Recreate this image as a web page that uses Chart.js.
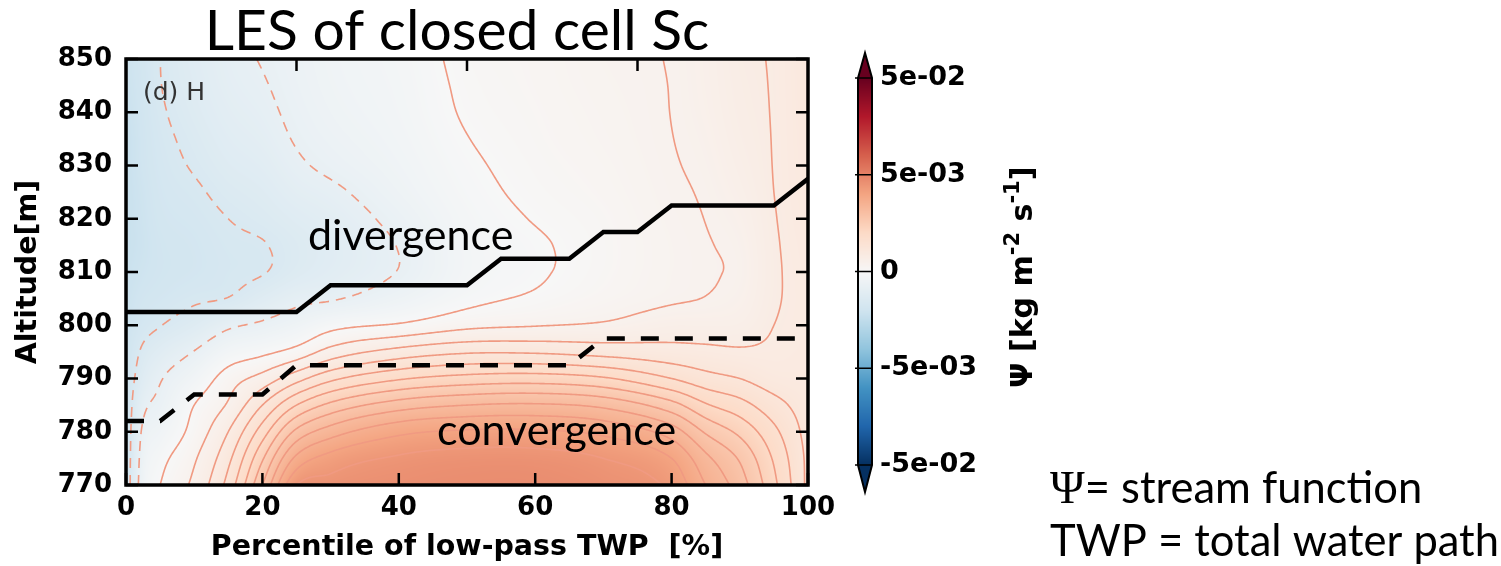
<!DOCTYPE html>
<html>
<head>
<meta charset="utf-8">
<script src="https://cdn.jsdelivr.net/npm/chart.js@4.4.1/dist/chart.umd.min.js"></script>
<style>
  html, body { margin: 0; padding: 0; background: #fff; }
  #wrap { width: 1501px; height: 566px; }
</style>
</head>
<body>
<div id="wrap"><canvas id="psiChart" width="1501" height="566"></canvas></div>
<script>
// grid columns: percentile of low-pass TWP [%]
const twpPct = [0, 2.5, 5, 10, 15, 20, 25, 30, 40, 50, 60, 70, 80, 85, 90, 95, 100];
// grid rows: altitude [m]
const altitudes = [770, 775, 780, 785, 790, 795, 800, 805, 810, 815, 820, 825, 830, 835, 840, 845, 850];

// stream function, units of 1e-3 kg m-2 s-1, one row per altitude
const psi770 = [-2.0, -0.45, 0.0, 0.5, 1.35, 2.8, 4.4, 4.55, 4.65, 4.7, 4.7, 4.6, 4.3, 3.6, 3.0, 2.1, 1.1];
const psi775 = [-2.0, -0.55, -0.15, 0.35, 1.1, 2.35, 3.7, 4.15, 4.45, 4.55, 4.55, 4.4, 4.0, 3.3, 2.75, 1.95, 1.1];
const psi780 = [-2.0, -0.7, -0.4, 0.15, 0.8, 1.8, 2.9, 3.4, 3.9, 4.05, 4.05, 3.9, 3.4, 2.75, 2.3, 1.7, 1.05];
const psi785 = [-2.0, -0.95, -0.65, 0.0, 0.45, 1.2, 2.0, 2.5, 3.0, 3.2, 3.25, 3.1, 2.55, 2.05, 1.75, 1.35, 1.0];
const psi790 = [-2.0, -1.25, -0.85, -0.35, 0.2, 0.55, 1.05, 1.5, 1.95, 2.15, 2.2, 2.05, 1.6, 1.35, 1.2, 1.0, 0.95];
const psi795 = [-2.05, -1.5, -1.2, -0.78, -0.3, -0.1, 0.15, 0.55, 0.95, 1.15, 1.15, 1.05, 0.95, 0.9, 0.85, 0.86, 0.92];
const psi800 = [-2.1, -1.8, -1.62, -1.3, -0.9, -0.7, -0.45, -0.15, 0.05, 0.3, 0.38, 0.45, 0.6, 0.6, 0.62, 0.8, 0.9];
const psi805 = [-2.15, -1.95, -1.85, -1.68, -1.58, -1.25, -0.95, -0.85, -0.5, -0.12, 0.06, 0.22, 0.36, 0.41, 0.5, 0.76, 0.9];
const psi810 = [-2.2, -2.05, -1.95, -1.85, -1.72, -1.63, -1.35, -1.15, -0.78, -0.25, -0.05, 0.15, 0.32, 0.38, 0.45, 0.75, 0.92];
const psi815 = [-2.25, -2.1, -1.95, -1.85, -1.7, -1.63, -1.4, -1.2, -0.78, -0.25, -0.05, 0.14, 0.32, 0.385, 0.47, 0.76, 0.95];
const psi820 = [-2.25, -2.08, -1.9, -1.78, -1.6, -1.45, -1.25, -1.08, -0.65, -0.2, 0.02, 0.16, 0.34, 0.405, 0.52, 0.78, 0.98];
const psi825 = [-2.25, -2.05, -1.85, -1.68, -1.45, -1.3, -1.05, -0.9, -0.5, -0.13, 0.08, 0.2, 0.36, 0.43, 0.58, 0.8, 1.0];
const psi830 = [-2.25, -2.0, -1.8, -1.55, -1.3, -1.15, -0.88, -0.7, -0.4, -0.07, 0.12, 0.23, 0.38, 0.46, 0.63, 0.81, 1.02];
const psi835 = [-2.25, -1.98, -1.75, -1.45, -1.18, -1.02, -0.76, -0.58, -0.33, -0.01, 0.15, 0.26, 0.395, 0.49, 0.67, 0.815, 1.04];
const psi840 = [-2.2, -1.95, -1.68, -1.35, -1.08, -0.92, -0.68, -0.5, -0.28, 0.04, 0.17, 0.28, 0.405, 0.52, 0.7, 0.82, 1.05];
const psi845 = [-2.15, -1.92, -1.62, -1.28, -1.0, -0.84, -0.62, -0.45, -0.25, 0.07, 0.19, 0.3, 0.41, 0.54, 0.72, 0.825, 1.06];
const psi850 = [-2.1, -1.9, -1.6, -1.22, -0.95, -0.77, -0.58, -0.42, -0.22, 0.1, 0.2, 0.32, 0.42, 0.55, 0.74, 0.83, 1.07];
const psiGrid = [psi770, psi775, psi780, psi785, psi790, psi795, psi800, psi805, psi810,
                 psi815, psi820, psi825, psi830, psi835, psi840, psi845, psi850];

// contour levels (1e-3 kg m-2 s-1); negative ones are dashed
const lineLevels = [-1.6, -0.8, 0, 0.4, 0.8, 1.2, 1.6, 2.0, 2.4, 2.8, 3.2, 3.6, 4.0, 4.4];

// upper boundary (solid) and lower boundary (dashed)
const upperPct = [0, 25, 30, 50, 55, 65, 70, 75, 80, 95, 100];
const upperAlt = [802.5, 802.5, 807.5, 807.5, 812.5, 812.5, 817.5, 817.5, 822.5, 822.5, 827.5];
const lowerPct = [0, 5, 10, 20, 25, 65, 70, 100];
const lowerAlt = [782, 782, 787, 787, 792.5, 792.5, 797.5, 797.5];

// colour bar ticks
const cbValues = [0.05, 0.005, 0, -0.005, -0.05];
const cbLabels = ['5e-02', '5e-03', '0', '-5e-03', '-5e-02'];
const topTickPct = [25, 50, 75];

// RdBu reversed
const rdbuR = [[5,48,97],[33,102,172],[67,147,195],[146,197,222],[209,229,240],[247,247,247],
               [253,219,199],[244,165,130],[214,96,77],[178,24,43],[103,0,31]];
const LIN = 5e-3;

function unitFor(v) {
  const a = Math.abs(v);
  let t = a <= LIN ? 0.25 * a / LIN : 0.25 + 0.25 * Math.log10(a / LIN);
  t = Math.min(t, 0.5);
  return 0.5 + Math.sign(v) * t;
}
function rgbAt(t) {
  const s = Math.max(0, Math.min(1, t)) * 10;
  const k = Math.min(9, Math.floor(s));
  const f = s - k;
  const a = rdbuR[k], b = rdbuR[k + 1];
  return [a[0] + (b[0] - a[0]) * f, a[1] + (b[1] - a[1]) * f, a[2] + (b[2] - a[2]) * f];
}

// cubic Hermite through the grid nodes
function hermite(xs, vs, v) {
  const n = xs.length;
  let k = 0;
  while (k < n - 2 && v > xs[k + 1]) k++;
  const h = xs[k + 1] - xs[k];
  const t = Math.max(0, Math.min(1, (v - xs[k]) / h));
  const slope = i => (vs[i + 1] - vs[i]) / (xs[i + 1] - xs[i]);
  const tan = i => i === 0 ? slope(0) : (i === n - 1 ? slope(n - 2) : (slope(i - 1) + slope(i)) / 2);
  const m0 = tan(k) * h, m1 = tan(k + 1) * h;
  const t2 = t * t, t3 = t2 * t;
  return (2 * t3 - 3 * t2 + 1) * vs[k] + (t3 - 2 * t2 + t) * m0 + (-2 * t3 + 3 * t2) * vs[k + 1] + (t3 - t2) * m1;
}

// marching squares on a fine data-space grid, joined into polylines
function traceLevel(vals, gx, gy, level) {
  const nx = gx.length, ny = gy.length;
  const pts = new Map();
  const segs = [];
  const edge = (kind, i, j) => {
    const key = kind + i + '_' + j;
    if (!pts.has(key)) {
      if (kind === 'h') {
        const a = vals[j * nx + i], b = vals[j * nx + i + 1];
        const f = (level - a) / (b - a);
        pts.set(key, [gx[i] + f * (gx[i + 1] - gx[i]), gy[j]]);
      } else {
        const a = vals[j * nx + i], b = vals[(j + 1) * nx + i];
        const f = (level - a) / (b - a);
        pts.set(key, [gx[i], gy[j] + f * (gy[j + 1] - gy[j])]);
      }
    }
    return key;
  };
  for (let j = 0; j < ny - 1; j++) {
    for (let i = 0; i < nx - 1; i++) {
      const v0 = vals[j * nx + i], v1 = vals[j * nx + i + 1];
      const v2 = vals[(j + 1) * nx + i + 1], v3 = vals[(j + 1) * nx + i];
      const c = (v0 > level ? 1 : 0) | (v1 > level ? 2 : 0) | (v2 > level ? 4 : 0) | (v3 > level ? 8 : 0);
      if (c === 0 || c === 15) continue;
      const e0 = () => edge('h', i, j), e1 = () => edge('v', i + 1, j);
      const e2 = () => edge('h', i, j + 1), e3 = () => edge('v', i, j);
      const mid = (v0 + v1 + v2 + v3) / 4 > level;
      switch (c) {
        case 1: case 14: segs.push([e3(), e0()]); break;
        case 2: case 13: segs.push([e0(), e1()]); break;
        case 3: case 12: segs.push([e3(), e1()]); break;
        case 4: case 11: segs.push([e1(), e2()]); break;
        case 6: case 9: segs.push([e0(), e2()]); break;
        case 7: case 8: segs.push([e3(), e2()]); break;
        case 5:
          if (mid) { segs.push([e0(), e1()]); segs.push([e2(), e3()]); }
          else { segs.push([e3(), e0()]); segs.push([e1(), e2()]); }
          break;
        case 10:
          if (mid) { segs.push([e3(), e0()]); segs.push([e1(), e2()]); }
          else { segs.push([e0(), e1()]); segs.push([e2(), e3()]); }
          break;
      }
    }
  }
  const adj = new Map();
  segs.forEach((s, k) => {
    for (const key of s) {
      if (!adj.has(key)) adj.set(key, []);
      adj.get(key).push(k);
    }
  });
  const used = new Uint8Array(segs.length);
  const lines = [];
  const walk = (start) => {
    const out = [];
    let end = start;
    for (;;) {
      const nxt = (adj.get(end) || []).find(k => !used[k]);
      if (nxt === undefined) break;
      used[nxt] = 1;
      const [a, b] = segs[nxt];
      end = a === end ? b : a;
      out.push(end);
    }
    return out;
  };
  for (let s = 0; s < segs.length; s++) {
    if (used[s]) continue;
    used[s] = 1;
    const fwd = walk(segs[s][1]);
    const back = walk(segs[s][0]);
    const chain = back.reverse().concat([segs[s][0], segs[s][1]], fwd);
    lines.push(chain.map(k => pts.get(k)));
  }
  return lines;
}

const streamPlugin = {
  id: 'streamField',
  beforeDatasetsDraw(chart) {
    const { ctx, chartArea } = chart;
    const xs = chart.scales.x, ys = chart.scales.y;
    const left = Math.round(chartArea.left), top = Math.round(chartArea.top);
    const w = Math.round(chartArea.right) - left, h = Math.round(chartArea.bottom) - top;

    // filled field
    const off = document.createElement('canvas');
    off.width = w; off.height = h;
    const octx = off.getContext('2d');
    const img = octx.createImageData(w, h);
    for (let px = 0; px < w; px++) {
      const pct = xs.getValueForPixel(left + px + 0.5);
      const col = psiGrid.map(row => hermite(twpPct, row, pct));
      for (let py = 0; py < h; py++) {
        const alt = ys.getValueForPixel(top + py + 0.5);
        const v = hermite(altitudes, col, alt);
        const c = rgbAt(unitFor(v * 1e-3));
        const o = (py * w + px) * 4;
        img.data[o] = c[0]; img.data[o + 1] = c[1]; img.data[o + 2] = c[2]; img.data[o + 3] = 255;
      }
    }
    octx.putImageData(img, 0, 0);
    ctx.drawImage(off, left, top);

    // contour lines
    const gx = [], gy = [];
    for (let p = 0; p <= 100.0001; p += 0.25) gx.push(p);
    for (let a = 770; a <= 850.0001; a += 0.2) gy.push(a);
    const rowsFine = psiGrid.map(row => gx.map(p => hermite(twpPct, row, p)));
    const vals = new Float64Array(gx.length * gy.length);
    for (let i = 0; i < gx.length; i++) {
      const col = rowsFine.map(r => r[i]);
      for (let j = 0; j < gy.length; j++) vals[j * gx.length + i] = hermite(altitudes, col, gy[j]);
    }
    ctx.save();
    ctx.beginPath();
    ctx.rect(chartArea.left, chartArea.top, chartArea.right - chartArea.left, chartArea.bottom - chartArea.top);
    ctx.clip();
    ctx.strokeStyle = '#f09a82';
    ctx.lineWidth = 1.6;
    for (const level of lineLevels) {
      ctx.setLineDash(level < 0 ? [10, 7] : []);
      for (const line of traceLevel(vals, gx, gy, level)) {
        ctx.beginPath();
        line.forEach((p, k) => {
          const X = xs.getPixelForValue(p[0]), Y = ys.getPixelForValue(p[1]);
          if (k === 0) ctx.moveTo(X, Y); else ctx.lineTo(X, Y);
        });
        ctx.stroke();
      }
    }
    ctx.restore();
  },
  afterDatasetsDraw(chart) {
    const { ctx, chartArea } = chart;
    const xs = chart.scales.x, ys = chart.scales.y;
    const { left, right, top, bottom } = chartArea;
    ctx.save();
    ctx.strokeStyle = '#000';
    ctx.lineWidth = 2.5;
    ctx.setLineDash([]);
    ctx.beginPath();
    xs.ticks.forEach(t => {
      const X = xs.getPixelForValue(t.value);
      ctx.moveTo(X, bottom); ctx.lineTo(X, bottom - 12);
    });
    topTickPct.forEach(p => {
      const X = xs.getPixelForValue(p);
      ctx.moveTo(X, top); ctx.lineTo(X, top + 12);
    });
    ys.ticks.forEach(t => {
      const Y = ys.getPixelForValue(t.value);
      ctx.moveTo(left, Y); ctx.lineTo(left + 12, Y);
      ctx.moveTo(right, Y); ctx.lineTo(right - 12, Y);
    });
    ctx.stroke();
    ctx.lineWidth = 3.5;
    ctx.strokeRect(left, top, right - left, bottom - top);

    ctx.fillStyle = '#333';
    ctx.font = '25px "DejaVu Sans"';
    ctx.textBaseline = 'alphabetic';
    ctx.textAlign = 'left';
    ctx.fillText('(d) H', 143, 100);

    ctx.fillStyle = '#000';
    ctx.font = '43px Lato';
    ctx.fillText('divergence', 308, 250);
    ctx.fillText('convergence', 437, 445);
    ctx.restore();
  },
  afterDraw(chart) {
    const { ctx } = chart;
    ctx.save();
    // title
    ctx.fillStyle = '#000';
    ctx.font = '57px Lato';
    ctx.textAlign = 'center';
    ctx.textBaseline = 'alphabetic';
    ctx.fillText('LES of closed cell Sc', 457, 50);

    // colour bar
    const cb = { l: 858, r: 872, top: 78, bottom: 465, tipTop: 53, tipBottom: 492 };
    const posFor = v => cb.bottom - unitFor(v) * (cb.bottom - cb.top);
    for (let y = cb.top; y < cb.bottom; y++) {
      const t = (cb.bottom - (y + 0.5)) / (cb.bottom - cb.top);
      const c = rgbAt(t);
      ctx.fillStyle = `rgb(${c[0] | 0},${c[1] | 0},${c[2] | 0})`;
      ctx.fillRect(cb.l, y, cb.r - cb.l, 1);
    }
    const mid = (cb.l + cb.r) / 2;
    ctx.fillStyle = 'rgb(103,0,31)';
    ctx.beginPath(); ctx.moveTo(cb.l, cb.top); ctx.lineTo(mid, cb.tipTop); ctx.lineTo(cb.r, cb.top); ctx.closePath(); ctx.fill();
    ctx.fillStyle = 'rgb(5,48,97)';
    ctx.beginPath(); ctx.moveTo(cb.l, cb.bottom); ctx.lineTo(mid, cb.tipBottom); ctx.lineTo(cb.r, cb.bottom); ctx.closePath(); ctx.fill();
    ctx.strokeStyle = '#000';
    ctx.lineWidth = 2;
    ctx.beginPath();
    ctx.moveTo(cb.l, cb.top); ctx.lineTo(mid, cb.tipTop); ctx.lineTo(cb.r, cb.top);
    ctx.lineTo(cb.r, cb.bottom); ctx.lineTo(mid, cb.tipBottom); ctx.lineTo(cb.l, cb.bottom); ctx.closePath();
    ctx.stroke();
    ctx.lineWidth = 1.5;
    ctx.font = 'bold 27px "DejaVu Sans"';
    ctx.textAlign = 'left';
    ctx.textBaseline = 'middle';
    ctx.fillStyle = '#000';
    cbValues.forEach((v, k) => {
      const y = posFor(v);
      ctx.beginPath(); ctx.moveTo(cb.l - 3, y); ctx.lineTo(cb.r, y); ctx.stroke();
      ctx.fillText(cbLabels[k], 880, y);
    });

    // colour bar label, rotated
    ctx.translate(1032, 388);
    ctx.rotate(-Math.PI / 2);
    ctx.textBaseline = 'alphabetic';
    const big = 'bold 30px "DejaVu Sans"', small = 'bold 21px "DejaVu Sans"';
    const parts = [['Ψ [kg m', big, 0], ['-2', small, -13], [' s', big, 0], ['-1', small, -13], [']', big, 0]];
    let x = 0;
    for (const [txt, font, dy] of parts) {
      ctx.font = font;
      ctx.fillText(txt, x, dy);
      x += ctx.measureText(txt).width;
    }
    ctx.setTransform(1, 0, 0, 1, 0, 0);

    // notes on the right
    ctx.textAlign = 'left';
    ctx.font = '47px "Liberation Serif"';
    ctx.fillText('Ψ', 1050, 503);
    const psiW = ctx.measureText('Ψ').width;
    ctx.font = '43.5px Lato';
    ctx.fillText('= stream function', 1050 + psiW, 503);
    ctx.fillText('TWP = total water path', 1050, 556);
    ctx.restore();
  }
};

const boldTick = { family: 'DejaVu Sans', size: 26, weight: 'bold' };
const boldTitle = { family: 'DejaVu Sans', size: 28.5, weight: 'bold' };

new Chart(document.getElementById('psiChart'), {
  type: 'line',
  data: {
    datasets: [
      {
        label: 'upper',
        data: upperPct.map((p, i) => ({ x: p, y: upperAlt[i] })),
        borderColor: '#000',
        borderWidth: 4.5,
        pointRadius: 0,
        tension: 0
      },
      {
        label: 'lower',
        data: lowerPct.map((p, i) => ({ x: p, y: lowerAlt[i] })),
        borderColor: '#000',
        borderWidth: 4.5,
        borderDash: [18, 16],
        pointRadius: 0,
        tension: 0
      }
    ]
  },
  options: {
    responsive: false,
    animation: false,
    layout: { padding: { left: 0, top: 59, right: 693, bottom: 0 } },
    plugins: { legend: { display: false }, tooltip: { enabled: false } },
    scales: {
      x: {
        type: 'linear',
        min: 0,
        max: 100,
        grid: { display: false, drawTicks: false },
        border: { display: false },
        ticks: { stepSize: 20, font: boldTick, color: '#000', padding: 8, maxRotation: 0 },
        title: { display: true, text: 'Percentile of low-pass TWP  [%]', font: boldTitle, color: '#000', padding: { top: 0, bottom: 1 } },
        afterFit: s => { s.height = 81; }
      },
      y: {
        type: 'linear',
        min: 770,
        max: 850,
        grid: { display: false, drawTicks: false },
        border: { display: false },
        ticks: { stepSize: 10, font: boldTick, color: '#000', padding: 14 },
        title: { display: true, text: 'Altitude[m]', font: boldTitle, color: '#000', padding: { top: 11, bottom: 0 } },
        afterFit: s => { s.width = 126; }
      }
    }
  },
  plugins: [streamPlugin]
});
</script>
</body>
</html>
